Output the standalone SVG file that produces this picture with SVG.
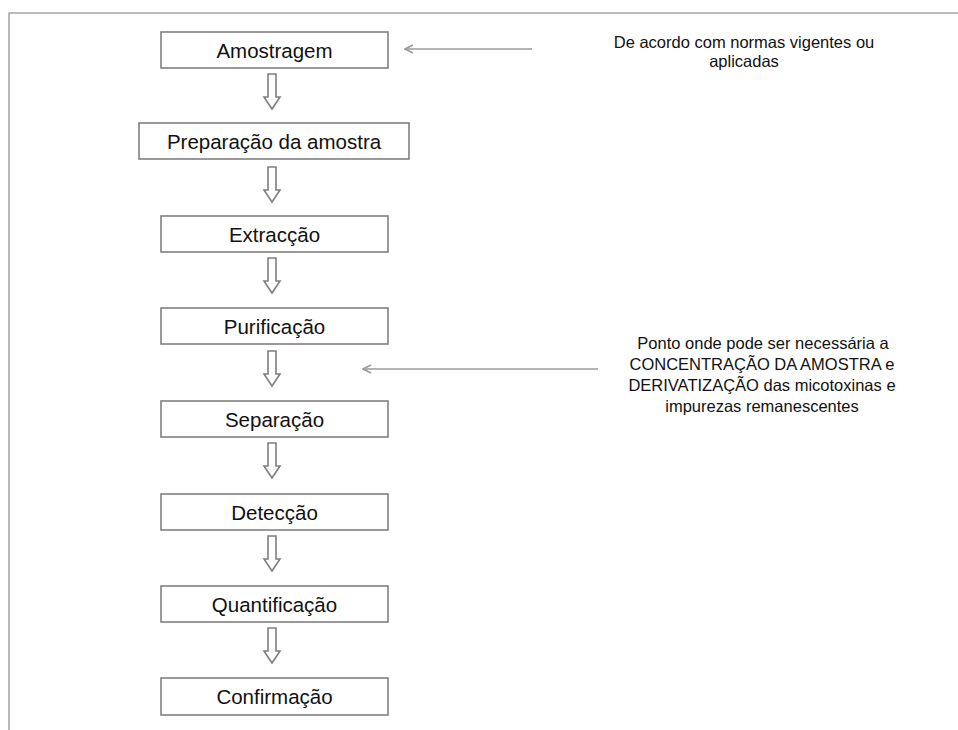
<svg xmlns="http://www.w3.org/2000/svg" width="958" height="730" viewBox="0 0 958 730">
  <defs>
    <style>
      .box { fill: #ffffff; stroke: #808080; stroke-width: 1.6; }
      .lbl { font-family: "Liberation Sans", Arial, sans-serif; font-size: 20.5px; fill: #111111; text-anchor: middle; }
      .note { font-family: "Liberation Sans", Arial, sans-serif; font-size: 16.5px; fill: #111111; text-anchor: middle; }
      .down { fill: #ffffff; stroke: #7f7f7f; stroke-width: 1.6; stroke-linejoin: miter; }
      .thin { stroke: #9a9a9a; stroke-width: 1.6; fill: none; }
      .frame { stroke: #a8a8a8; stroke-width: 1.6; fill: none; }
    </style>
    <marker id="open" viewBox="0 0 10 10" refX="9" refY="5" markerWidth="10" markerHeight="10" markerUnits="userSpaceOnUse" orient="auto">
      <path d="M1,1 L9,5 L1,9" fill="none" stroke="#9a9a9a" stroke-width="1.6"/>
    </marker>
  </defs>
  <rect width="958" height="730" fill="#ffffff"/>
  <path class="frame" d="M9,730 V13 H958"/>

  <g id="n1"><rect class="box" x="161" y="32" width="227" height="36"/><text class="lbl" x="274.5" y="58">Amostragem</text></g>
  <g id="n2"><rect class="box" x="139" y="123" width="270" height="36"/><text class="lbl" x="274" y="149">Preparação da amostra</text></g>
  <g id="n3"><rect class="box" x="161" y="216" width="227" height="36"/><text class="lbl" x="274.5" y="242">Extracção</text></g>
  <g id="n4"><rect class="box" x="161" y="308" width="227" height="36"/><text class="lbl" x="274.5" y="334">Purificação</text></g>
  <g id="n5"><rect class="box" x="161" y="401" width="227" height="36"/><text class="lbl" x="274.5" y="427">Separação</text></g>
  <g id="n6"><rect class="box" x="161" y="494" width="227" height="36"/><text class="lbl" x="274.5" y="520">Detecção</text></g>
  <g id="n7"><rect class="box" x="161" y="586" width="227" height="36"/><text class="lbl" x="274.5" y="612">Quantificação</text></g>
  <g id="n8"><rect class="box" x="161" y="678" width="227" height="37"/><text class="lbl" x="274.5" y="704">Confirmação</text></g>

  <g id="note1"><text class="note" x="744" y="48">De acordo com normas vigentes ou</text><text class="note" x="744" y="67">aplicadas</text></g>
  <g id="note2">
    <text class="note" x="763" y="349">Ponto onde pode ser necessária a</text>
    <text class="note" x="762" y="370">CONCENTRAÇÃO DA AMOSTRA e</text>
    <text class="note" x="762" y="391">DERIVATIZAÇÃO das micotoxinas e</text>
    <text class="note" x="762" y="412">impurezas remanescentes</text>
  </g>

  <g id="connectors">
    <path class="down" d="M268,74 V97 H264 L272,109 L280,97 H276 V74 Z"/>
    <path class="down" d="M268,167 V190 H264 L272,202 L280,190 H276 V167 Z"/>
    <path class="down" d="M268,258 V281 H264 L272,293 L280,281 H276 V258 Z"/>
    <path class="down" d="M268,351 V374 H264 L272,386 L280,374 H276 V351 Z"/>
    <path class="down" d="M268,443 V466 H264 L272,478 L280,466 H276 V443 Z"/>
    <path class="down" d="M268,536 V559 H264 L272,571 L280,559 H276 V536 Z"/>
    <path class="down" d="M268,628 V651 H264 L272,663 L280,651 H276 V628 Z"/>
    <line class="thin" x1="532" y1="49" x2="405" y2="49" marker-end="url(#open)"/>
    <line class="thin" x1="598" y1="369" x2="363" y2="369" marker-end="url(#open)"/>
  </g>
</svg>
